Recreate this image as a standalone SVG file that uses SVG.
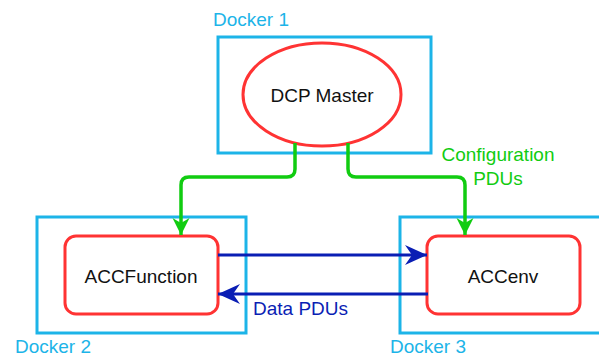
<svg xmlns="http://www.w3.org/2000/svg" width="599" height="358" viewBox="0 0 599 358">
<defs>
<style>
.docker{fill:none;stroke:#1cb4e8;stroke-width:3}
.dlabel{fill:#1cb4e8;font-family:"Liberation Sans",Arial,sans-serif;font-size:19px}
.comp{fill:#fff;stroke:#ff3333;stroke-width:3}
.ntext{fill:#111;font-family:"Liberation Sans",Arial,sans-serif;font-size:19px;text-anchor:middle}
.cfg{fill:none;stroke:#11cc11;stroke-width:3.5}
.data{fill:none;stroke:#0a1eb4;stroke-width:3}
</style>
<marker id="ag" markerUnits="userSpaceOnUse" markerWidth="20" markerHeight="20" viewBox="-18 -9 20 18" refX="0" refY="0" orient="auto">
<path d="M0,0 L-17,-8.5 L-12,0 L-17,8.5 Z" fill="#11cc11"/>
</marker>
<marker id="ab" markerUnits="userSpaceOnUse" markerWidth="26" markerHeight="22" viewBox="-24 -11 26 22" refX="0" refY="0" orient="auto">
<path d="M0,0 L-22,-10 L-15,0 L-22,10 Z" fill="#0a1eb4"/>
</marker>
</defs>
<g id="docker1">
<rect class="docker" x="218" y="37" width="213" height="116"/>
<text class="dlabel" x="213" y="26">Docker 1</text>
</g>
<g id="docker2">
<rect class="docker" x="37" y="217" width="209" height="116"/>
<text class="dlabel" x="15" y="353">Docker 2</text>
</g>
<g id="docker3">
<rect class="docker" x="400" y="217" width="215" height="116"/>
<text class="dlabel" x="390" y="353">Docker 3</text>
</g>
<g id="dcp-master">
<ellipse class="comp" cx="322" cy="94.5" rx="79" ry="51.5"/>
<text class="ntext" x="322" y="102">DCP Master</text>
</g>
<g id="accfunction">
<rect class="comp" x="65" y="236" width="153" height="78" rx="11"/>
<text class="ntext" x="141" y="283">ACCFunction</text>
</g>
<g id="accenv">
<rect class="comp" x="427" y="236" width="153" height="78" rx="11"/>
<text class="ntext" x="503" y="283">ACCenv</text>
</g>
<g id="connectors">
<path class="cfg" d="M295,143 V169 Q295,177 287,177 H189 Q181,177 181,185 V235" marker-end="url(#ag)"/>
<path class="cfg" d="M348,143 V169 Q348,177 356,177 H457 Q465,177 465,185 V235" marker-end="url(#ag)"/>
<path class="data" d="M218,255 H427" marker-end="url(#ab)"/>
<path class="data" d="M428,294 H218" marker-end="url(#ab)"/>
<text fill="#11cc11" font-family="'Liberation Sans',Arial,sans-serif" font-size="19" text-anchor="middle" x="498" y="161">Configuration</text>
<text fill="#11cc11" font-family="'Liberation Sans',Arial,sans-serif" font-size="19" text-anchor="middle" x="498" y="185">PDUs</text>
<text fill="#0a1eb4" font-family="'Liberation Sans',Arial,sans-serif" font-size="19" x="253" y="315">Data PDUs</text>
</g>
</svg>
